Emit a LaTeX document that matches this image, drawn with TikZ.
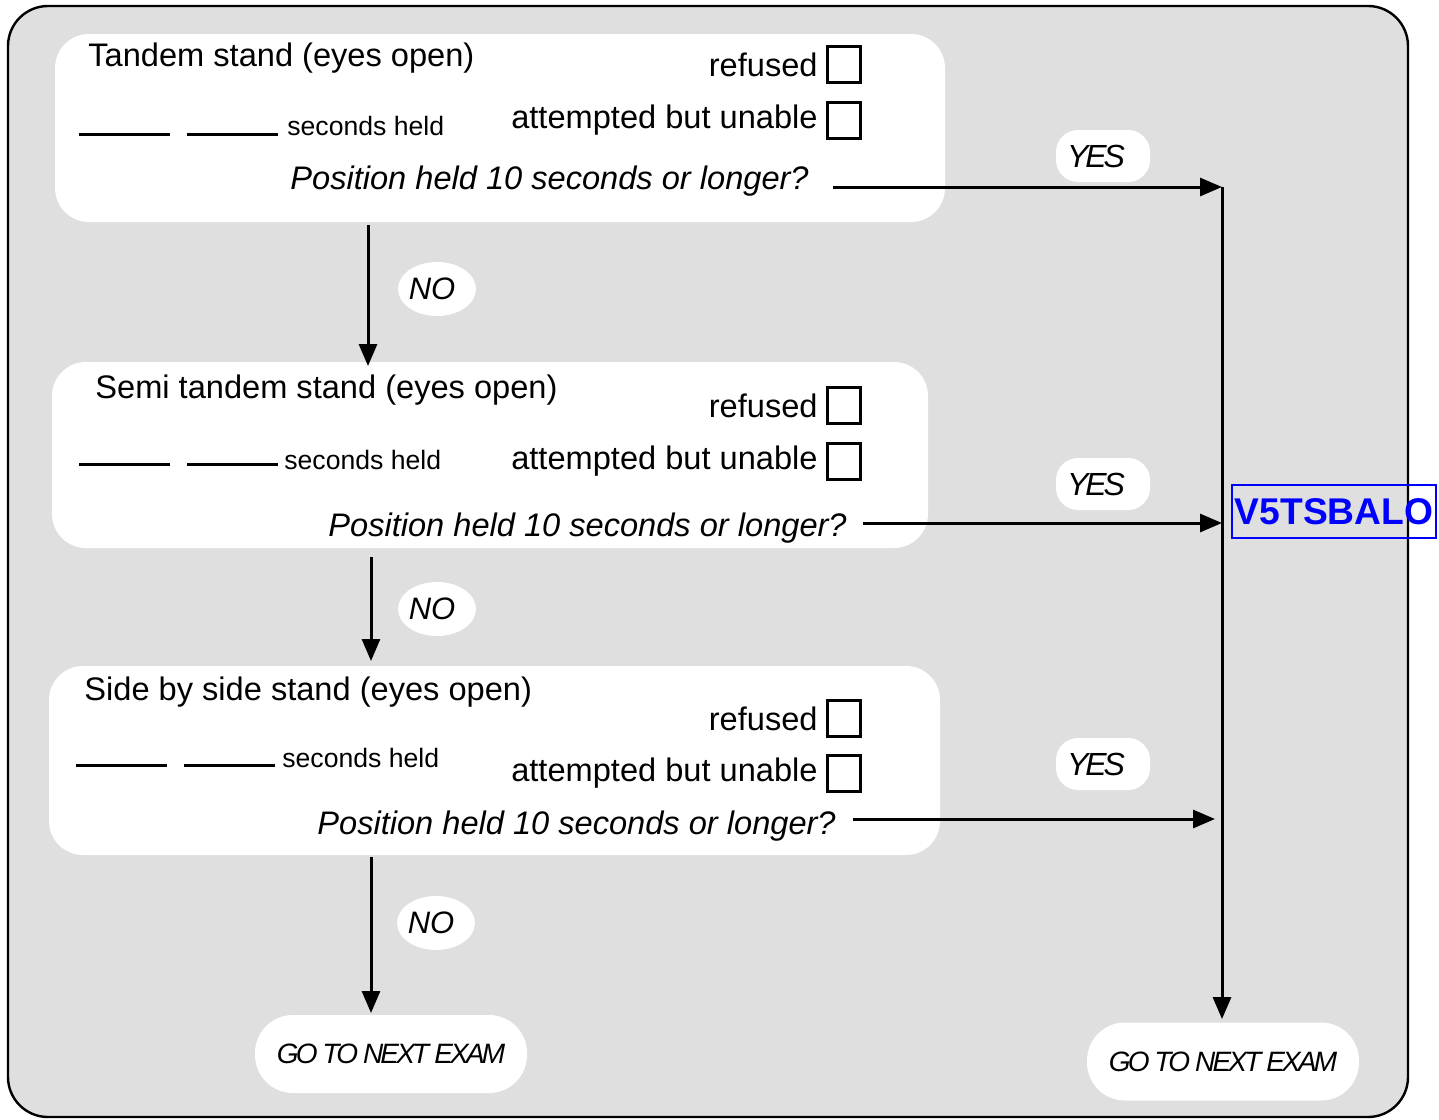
\documentclass[tikz,border=0pt]{standalone}
\usepackage{fontspec}
\setmainfont{Liberation Sans}
\newfontfamily\narrowfont[LetterSpace=-10]{Liberation Sans}
\usepackage{tikz}
\usetikzlibrary{arrows.meta,shapes,calc,positioning}
\definecolor{framegray}{RGB}{223,223,223}
\definecolor{codeblue}{RGB}{0,0,255}

\begin{document}
\begin{tikzpicture}[x=0.5pt,y=-0.5pt]
\tikzset{
	frame/.style = {draw, line width=1.2pt, fill=framegray, rounded corners=20pt},
	panel/.style = {fill=white, rounded corners=17pt, inner sep=0},
	label text/.style = {inner sep=0, font=\fontsize{16.3}{18}\selectfont},
	small text/.style = {inner sep=0, font=\fontsize{13.3}{15}\selectfont},
	question/.style = {inner sep=0, font=\fontsize{16.3}{18}\selectfont\itshape},
	tick box/.style = {draw, line width=1.5pt, minimum width=16.5pt, minimum height=18pt, inner sep=0},
	blank/.style = {line width=1.5pt},
	flow/.style = {line width=1.5pt, -{Triangle[length=11pt,width=9pt]}},
	no node/.style = {ellipse, fill=white, minimum width=39pt, minimum height=27pt, inner sep=0, font=\fontsize{15.5}{17}\selectfont\itshape},
	yes node/.style = {fill=white, rounded corners=11pt, minimum width=47pt, minimum height=26pt, inner sep=0, font=\narrowfont\fontsize{16}{18}\selectfont\itshape},
	exit node/.style = {fill=white, rounded corners=19pt, minimum width=136pt, minimum height=39pt, inner sep=0, font=\narrowfont\fontsize{14}{16}\selectfont\itshape},
	var node/.style = {draw=codeblue, line width=1.2pt, text=codeblue, minimum width=102pt, minimum height=26.5pt, inner sep=0, font=\fontsize{18.6}{20}\selectfont\bfseries},
}
\useasboundingbox (0,0) rectangle (1439,1119);

% outer frame
\draw[frame] (8,6) rectangle (1408,1117);

% the three stands
\node (p1) [panel, minimum width=445pt, minimum height=94pt] at (500,128) {};
\node (p2) [panel, minimum width=438pt, minimum height=93pt] at (490,455) {};
\node (p3) [panel, minimum width=445.5pt, minimum height=94.5pt] at (494.5,760.5) {};

% tandem
\node (t1) [label text, anchor=base west] at (88,66) {Tandem stand (eyes open)};
\node (c1a) [tick box] at (844,64.5) {};
\node (c1b) [tick box] at (844,120.5) {};
\node (r1) [label text, left=4pt of c1a] {refused};
\node (u1) [label text, left=4pt of c1b] {attempted but unable};
\draw[blank] (79,134) -- (170,134);
\draw[blank] (187,134) -- (278,134);
\node (s1) [small text, anchor=base west] at (287,135) {seconds held};
\node (q1) [question, anchor=base west] at (290,189) {Position held 10 seconds or longer?};

% semi tandem
\node (t2) [label text, anchor=base west] at (95,398) {Semi tandem stand (eyes open)};
\node (c2a) [tick box] at (844,405.5) {};
\node (c2b) [tick box] at (844,461.5) {};
\node (r2) [label text, left=4pt of c2a] {refused};
\node (u2) [label text, left=4pt of c2b] {attempted but unable};
\draw[blank] (79,464) -- (170,464);
\draw[blank] (187,464) -- (278,464);
\node (s2) [small text, anchor=base west] at (284,469) {seconds held};
\node (q2) [question, anchor=base west] at (328,536) {Position held 10 seconds or longer?};

% side by side
\node (t3) [label text, anchor=base west] at (84,700) {Side by side stand (eyes open)};
\node (c3a) [tick box] at (844,718.5) {};
\node (c3b) [tick box] at (844,773.5) {};
\node (r3) [label text, left=4pt of c3a] {refused};
\node (u3) [label text, left=4pt of c3b] {attempted but unable};
\draw[blank] (76,765) -- (167,765);
\draw[blank] (184,765) -- (275,765);
\node (s3) [small text, anchor=base west] at (282,767) {seconds held};
\node (q3) [question, anchor=base west] at (317,834) {Position held 10 seconds or longer?};

% labels
\node (n1) [no node] at (437,289) {\hspace*{-5pt}NO};
\node (n2) [no node] at (437,609) {\hspace*{-5pt}NO};
\node (n3) [no node] at (436,923) {\hspace*{-5pt}NO};
\node (y1) [yes node] at (1103,156) {\hspace*{-7pt}YES};
\node (y2) [yes node] at (1103,484) {\hspace*{-7pt}YES};
\node (y3) [yes node] at (1103,764) {\hspace*{-7pt}YES};
\node (g1) [exit node] at (391,1054) {GO TO NEXT EXAM};
\node (g2) [exit node] at (1223,1061.5) {GO TO NEXT EXAM};
\node (v5) [var node] at (1334,511.5) {V5TSBALO};

% arrow ends
\coordinate (a1) at (833,187);
\coordinate (a2) at (863,523);
\coordinate (a3) at (853,819);
\coordinate (j1) at (1222,187);
\coordinate (j3) at (1215,819);
\coordinate (d1) at (368,225);
\coordinate (e1) at (368,366);
\coordinate (d2) at (371,557);
\coordinate (e2) at (371,661);
\coordinate (d3) at (371,857);
\coordinate (e3) at (371,1013);

\draw[flow] (a1) -- (j1);
\draw[flow] (a2) -- (j1 |- a2);
\draw[flow] (a3) -- (j3);
\draw[flow, shorten >=1.5pt] (j1) -- (j1 |- g2.north);
\draw[flow] (d1) -- (e1);
\draw[flow] (d2) -- (e2);
\draw[flow] (d3) -- (e3);

\end{tikzpicture}
\end{document}
